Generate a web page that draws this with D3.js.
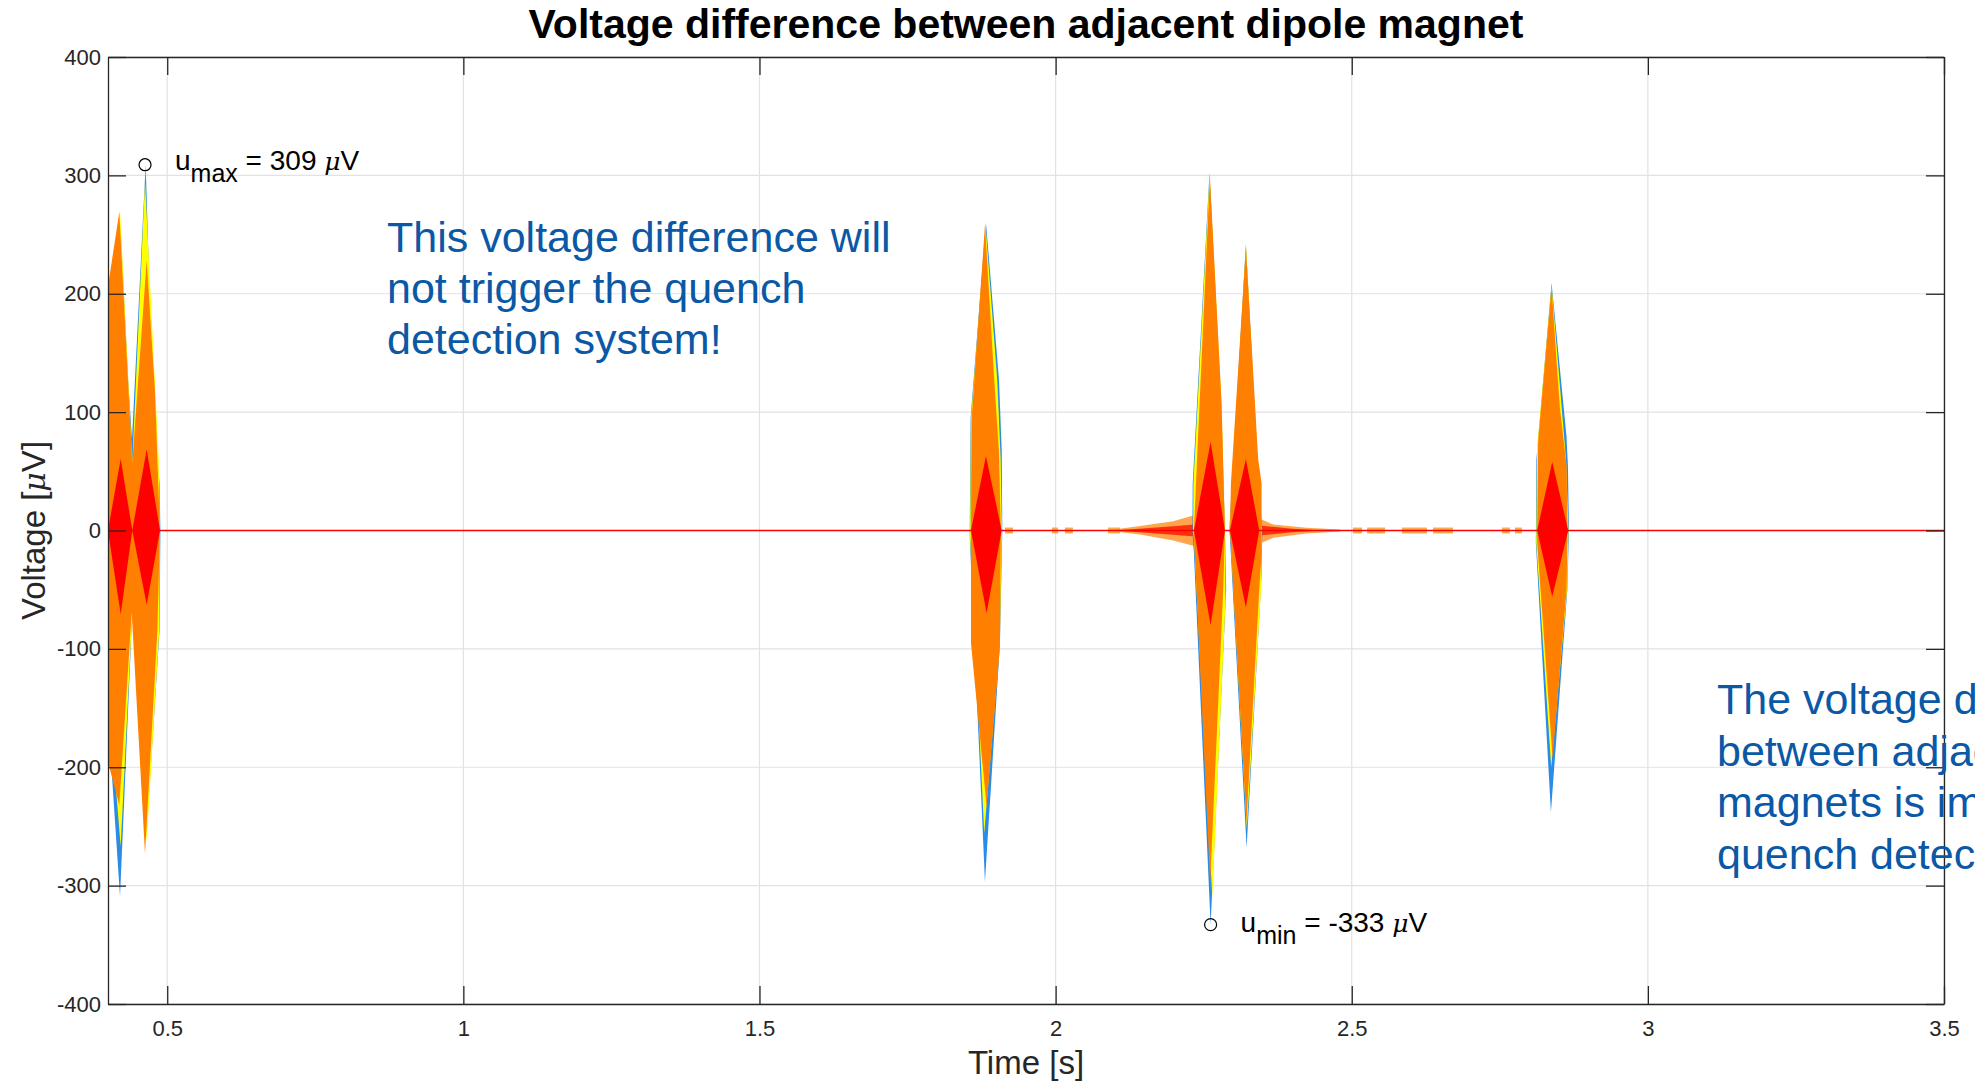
<!DOCTYPE html>
<html>
<head>
<meta charset="utf-8">
<script src="https://cdn.jsdelivr.net/npm/d3@7"></script>
<style>
  body { margin: 0; background: #fff; overflow: hidden; }
  svg { display: block; font-family: "Liberation Sans", Arial, sans-serif; }
</style>
</head>
<body>
<div id="chart"></div>
<script>
// tick values
const xTicks = [0.5, 1, 1.5, 2, 2.5, 3, 3.5]
const yTicks = [-400, -300, -200, -100, 0, 100, 200, 300, 400]

// every shape is a closed outline of [time (s), voltage (uV)], one per burst
const blueShapes = [
  [[0.395,0],[0.395,150],[0.4214,256],[0.4343,125],[0.4405,77],[0.4636,309],[0.4745,130],[0.4870,40],[0.4885,0],[0.4870,-85],[0.4653,-255],[0.4410,-69],[0.4203,-309],[0.395,-120]],
  [[1.8550,0],[1.8565,95],[1.8824,260],[1.9045,127],[1.9090,67],[1.9100,0],[1.9060,-95],[1.8807,-297],[1.8550,-5]],
  [[2.2310,0],[2.2315,40],[2.2598,302],[2.2795,107],[2.2859,0],[2.2880,-50],[2.2617,-333],[2.2336,-20]],
  [[2.2932,0],[2.3213,242],[2.3430,40],[2.3490,0],[2.3475,-40],[2.3225,-268],[2.2943,-5]],
  [[2.8110,0],[2.8118,60],[2.8374,209],[2.8625,80],[2.8650,55],[2.8668,0],[2.8640,-50],[2.8363,-238],[2.8108,-10]]
]
const yellowShapes = [
  [[0.395,0],[0.395,178],[0.4203,271],[0.4410,57],[0.4625,295],[0.4855,61],[0.4875,0],[0.4865,-85],[0.4653,-263],[0.4410,-69],[0.4214,-267],[0.395,-105]],
  [[1.8558,0],[1.8570,93],[1.8819,256],[1.9015,127],[1.9072,60],[1.9092,0],[1.9058,-95],[1.8795,-256],[1.8556,-5]],
  [[2.2322,0],[2.2327,40],[2.2600,300],[2.2800,107],[2.2859,0],[2.2870,-60],[2.2645,-310],[2.2340,-10]],
  [[2.2937,0],[2.3215,241],[2.3440,25],[2.3482,0],[2.3468,-50],[2.3228,-252],[2.2948,0]],
  [[2.8118,0],[2.8130,70],[2.8374,207],[2.8618,60],[2.8660,0],[2.8636,-50],[2.8368,-200],[2.8115,-10]]
]
const orangeShapes = [
  [[0.395,0],[0.395,190],[0.4191,269],[0.4410,57],[0.4653,228],[0.4794,117],[0.4833,61],[0.4878,0],[0.4833,-85],[0.4625,-273],[0.4400,-69],[0.4191,-232],[0.395,-186]],
  [[1.8571,0],[1.8580,93],[1.8807,258],[1.8964,127],[1.9043,67],[1.9075,0],[1.9060,-98],[1.8835,-233],[1.8571,-95]],
  [[2.2336,0],[2.2370,40],[2.2605,299],[2.2803,107],[2.2859,0],[2.2830,-50],[2.2610,-297],[2.2336,-5]],
  [[2.2945,0],[2.2960,40],[2.3213,239],[2.3421,60],[2.3478,40],[2.3478,-20],[2.3438,-50],[2.3222,-246],[2.2945,0]],
  [[2.8131,0],[2.8148,76],[2.8374,206],[2.8458,143],[2.8514,104],[2.8627,55],[2.8644,0],[2.8627,-50],[2.8391,-192],[2.8131,-10]]
]
const redShapes = [
  [[0.3999,0],[0.4214,60.6],[0.4410,0],[0.4653,68.7],[0.4878,0],[0.4653,-62.7],[0.4410,0],[0.4214,-70.8]],
  [[1.8571,0],[1.8824,63],[1.9089,0],[1.8835,-70]],
  [[2.2336,0],[2.2617,75],[2.2859,0],[2.2617,-80]],
  [[2.2943,0],[2.3213,60.5],[2.3438,0],[2.3213,-65]],
  [[2.8131,0],[2.8385,58],[2.8655,0],[2.8385,-56]]
]

// small ringing around the third burst
const noiseCones = [
  [[2.0862,0],[2.1424,3.7],[2.1986,7.9],[2.2353,13],[2.2353,-13.2],[2.1986,-8.5],[2.1424,-3.4]],
  [[2.3438,0],[2.3478,9.3],[2.3675,5],[2.4238,2.3],[2.48,0.8],[2.48,-0.8],[2.4238,-2.5],[2.3675,-6.2],[2.3478,-10.4]]
]
const noiseCore = [
  [[2.10,0],[2.1986,3.5],[2.2353,5],[2.2353,-5],[2.1986,-3.5]],
  [[2.3438,0],[2.3478,4],[2.40,1.5],[2.45,0],[2.40,-1.5],[2.3478,-4]]
]
// short noise blips on the zero line: [start, end, amplitude]
const blips = [
  [1.9144,1.9279,2.5],[1.9938,2.0039,2.5],[2.0157,2.0292,2.5],[2.0883,2.1086,2.5],
  [2.502,2.5174,2.5],[2.5259,2.5563,2.5],[2.5847,2.6269,2.5],[2.6372,2.6709,2.5],
  [2.7536,2.767,2.5],[2.7755,2.7873,2.5]
]
const baseline = [[0.4, 0], [3.5, 0]]

const umax = [0.4625, 309]
const umin = [2.2617, -333]

const noteLeft = ["This voltage difference will", "not trigger the quench", "detection system!"]
const noteRight = ["The voltage difference", "between adjacent", "magnets is important for", "quench detection"]

const margin = {top: 57, right: 31, bottom: 79, left: 108},
width = 1975 - margin.left - margin.right,
height = 1083 - margin.top - margin.bottom;

const root = d3.select("#chart")
.append("svg")
.attr("width", 1975)
.attr("height", 1083)

const svg = root.append("g")
.attr("transform", `translate(${margin.left}, ${margin.top})`);

const x = d3.scaleLinear()
.domain([0.4, 3.5])
.range([0, width]);

const y = d3.scaleLinear()
.domain([-400, 400])
.range([height, 0]);

// grid
svg.append("g")
.selectAll("line")
.data(xTicks)
.join("line")
.attr("x1", d => x(d)).attr("x2", d => x(d))
.attr("y1", 0).attr("y2", height)
.attr("stroke", "#e2e2e2")
.attr("stroke-width", 1.2)

svg.append("g")
.selectAll("line")
.data(yTicks)
.join("line")
.attr("y1", d => y(d)).attr("y2", d => y(d))
.attr("x1", 0).attr("x2", width)
.attr("stroke", "#e2e2e2")
.attr("stroke-width", 1.2)

svg.append("clipPath")
.attr("id", "plotClip")
.append("rect")
.attr("width", width)
.attr("height", height)

const plot = svg.append("g").attr("clip-path", "url(#plotClip)")

const outline = d3.line()
.x(d => x(d[0]))
.y(d => y(d[1]))

function drawShapes(shapes, color, opacity) {
  plot.append("g")
  .selectAll("path")
  .data(shapes)
  .join("path")
  .attr("d", d => outline(d) + "Z")
  .attr("fill", color)
  .attr("fill-opacity", opacity)
}

drawShapes(noiseCones, "#ff7f00", 0.7)
drawShapes(noiseCore, "#ff1a00", 0.85)

plot.append("g")
.selectAll("rect")
.data(blips)
.join("rect")
.attr("x", d => x(d[0]))
.attr("width", d => x(d[1]) - x(d[0]))
.attr("y", d => y(d[2]))
.attr("height", d => y(-d[2]) - y(d[2]))
.attr("fill", "#ff9a2e")
.attr("fill-opacity", 0.85)

drawShapes(blueShapes, "#2a8ce8", 1)
drawShapes(yellowShapes, "#ffff00", 1)
drawShapes(orangeShapes, "#ff8000", 1)
drawShapes(redShapes, "#ff0000", 1)

plot.append("path")
.attr("d", outline(baseline))
.attr("stroke", "#ff0000")
.attr("stroke-width", 1.3)
.attr("fill", "none")

// axes, ticks pointing inward like matlab
const fmt = d => String(d)

svg.append("g")
.attr("transform", `translate(0, ${height})`)
.call(d3.axisBottom(x).tickValues(xTicks).tickSize(-18).tickSizeOuter(0).tickPadding(16).tickFormat(fmt))

svg.append("g")
.call(d3.axisLeft(y).tickValues(yTicks).tickSize(-18).tickSizeOuter(0).tickPadding(7).tickFormat(fmt))

svg.append("g")
.call(d3.axisTop(x).tickValues(xTicks).tickSize(-18).tickSizeOuter(0).tickFormat(""))

svg.append("g")
.attr("transform", `translate(${width}, 0)`)
.call(d3.axisRight(y).tickValues(yTicks).tickSize(-18).tickSizeOuter(0).tickFormat(""))

svg.selectAll(".domain, .tick line")
.attr("stroke", "#262626")
.attr("stroke-width", 1.3)

svg.selectAll(".tick text")
.attr("font-size", 22)
.attr("font-family", "Liberation Sans, Arial, sans-serif")
.attr("fill", "#262626")

// markers for min and max
svg.append("g")
.selectAll("circle")
.data([umax, umin])
.join("circle")
.attr("cx", d => x(d[0]))
.attr("cy", d => y(d[1]))
.attr("r", 6)
.attr("fill", "none")
.attr("stroke", "#000")
.attr("stroke-width", 1.2)

function extremeLabel(pt, sub, dyBase) {
  const t = svg.append("text")
  .attr("x", x(pt[0]) + 30)
  .attr("y", y(pt[1]) + dyBase)
  .attr("font-size", 28)
  .attr("fill", "#000")
  t.append("tspan").text("u")
  t.append("tspan").attr("font-size", 25).attr("dy", 12).text(sub)
  t.append("tspan").attr("dy", -12).text(` = ${pt[1]} `)
  t.append("tspan").attr("font-style", "italic").attr("font-family", "DejaVu Serif, serif").attr("font-size", 25).text("\u03bc")
  t.append("tspan").text("V")
}
extremeLabel(umax, "max", 5)
extremeLabel(umin, "min", 7)

// title and axis labels
root.append("text")
.attr("x", margin.left + width / 2)
.attr("y", 38)
.attr("text-anchor", "middle")
.attr("font-size", 41)
.attr("font-weight", "bold")
.attr("fill", "#000")
.text("Voltage difference between adjacent dipole magnet")

root.append("text")
.attr("x", margin.left + width / 2)
.attr("y", 1074)
.attr("text-anchor", "middle")
.attr("font-size", 33)
.attr("fill", "#262626")
.text("Time [s]")

const yLab = root.append("text")
.attr("transform", `translate(45, ${margin.top + height / 2}) rotate(-90)`)
.attr("text-anchor", "middle")
.attr("font-size", 33)
.attr("fill", "#262626")
yLab.append("tspan").text("Voltage [")
yLab.append("tspan").attr("font-style", "italic").attr("font-family", "DejaVu Serif, serif").attr("font-size", 30).text("\u03bc")
yLab.append("tspan").text("V]")

// blue notes
root.append("g")
.selectAll("text")
.data(noteLeft)
.join("text")
.attr("x", 387)
.attr("y", (d, i) => 252 + i * 51)
.attr("font-size", 43)
.attr("fill", "#0a58a6")
.text(d => d)

root.append("g")
.selectAll("text")
.data(noteRight)
.join("text")
.attr("x", 1717)
.attr("y", (d, i) => 714 + i * 51.7)
.attr("font-size", 43)
.attr("fill", "#0a58a6")
.text(d => d)
</script>
</body>
</html>
